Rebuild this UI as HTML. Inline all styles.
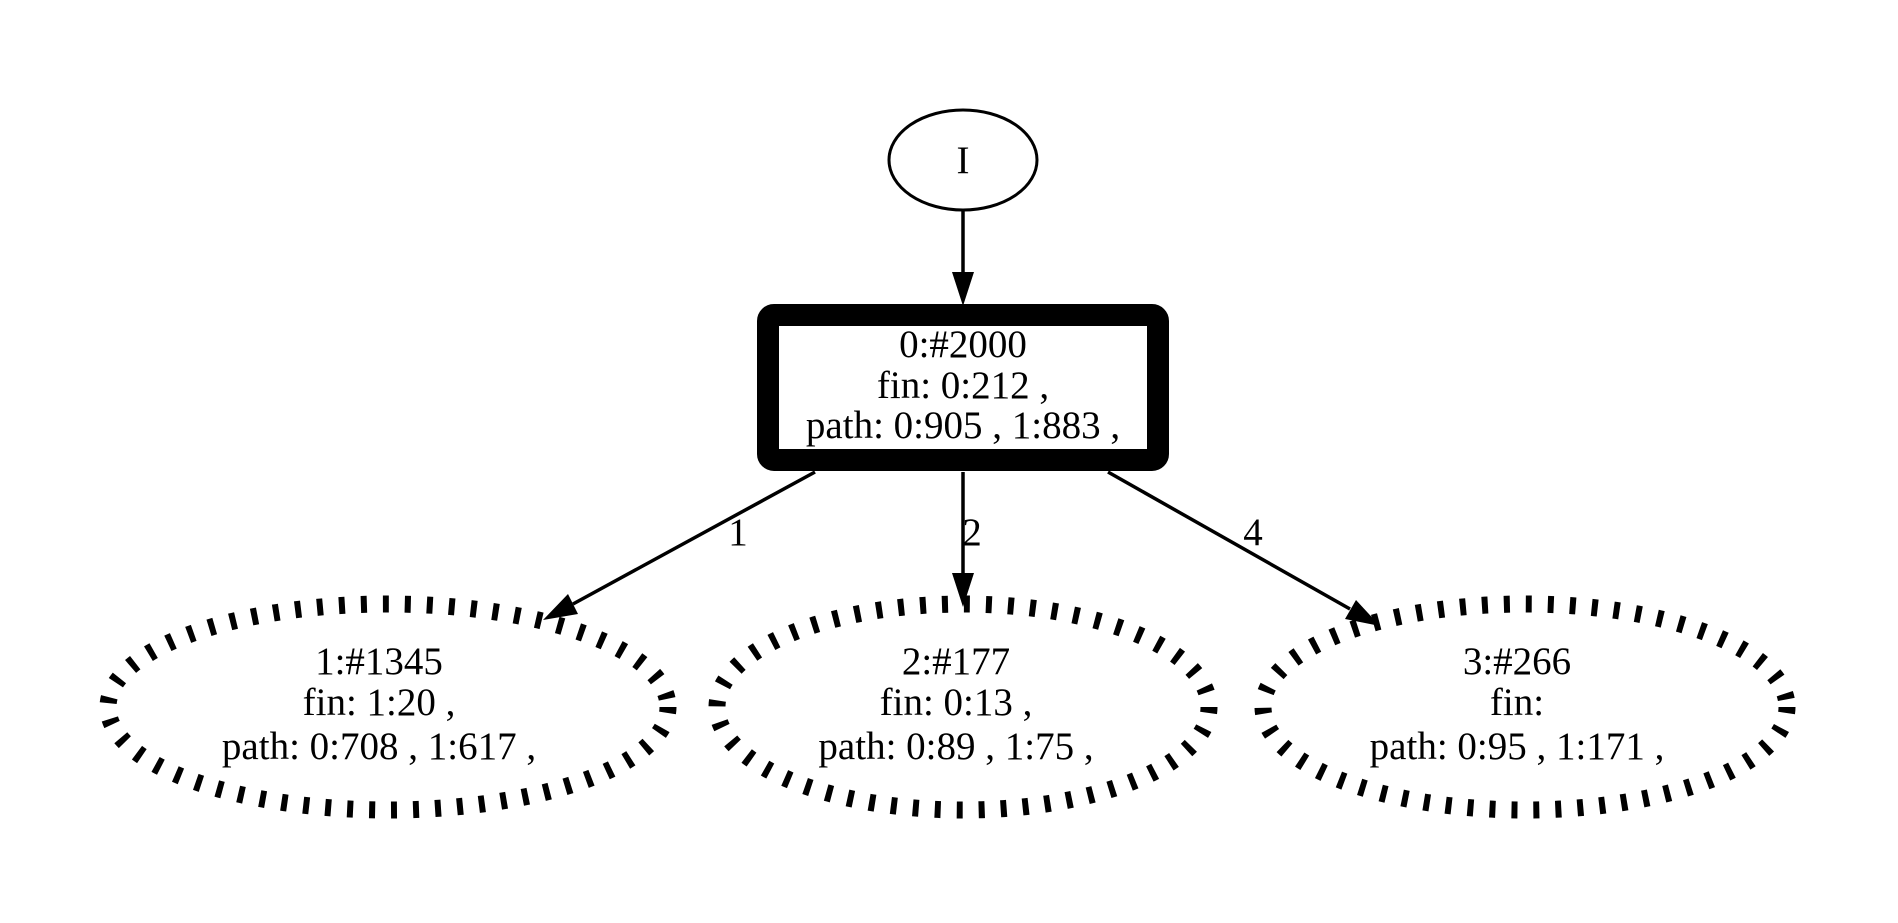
<!DOCTYPE html>
<html><head><meta charset="utf-8"><style>html,body{margin:0;padding:0;background:#fff;}svg{display:block}</style></head>
<body>
<svg width="1898" height="923" viewBox="0 0 1898 923" xmlns="http://www.w3.org/2000/svg" font-family="'Liberation Serif', serif" font-size="39" text-anchor="middle">
<rect width="1898" height="923" fill="#fff"/>
<!-- I node -->
<ellipse cx="963" cy="160" rx="74" ry="50" fill="none" stroke="#000" stroke-width="3"/>
<text x="963" y="173">I</text>
<!-- edge I -> box -->
<line x1="963" y1="211" x2="963" y2="274" stroke="#000" stroke-width="3.5"/>
<polygon points="952,272 974,272 963,306" fill="#000"/>
<!-- box -->
<rect x="768" y="315" width="390" height="145" rx="6" fill="#fff" stroke="#000" stroke-width="22"/>
<text x="963" y="357">0:#2000</text>
<text x="963" y="398">fin: 0:212 ,</text>
<text x="963" y="438">path: 0:905 , 1:883 ,</text>
<!-- edges -->
<line x1="815" y1="472" x2="573" y2="604" stroke="#000" stroke-width="3.5"/>
<polygon points="578,614 568,594 543,620" fill="#000"/>
<text x="738" y="545">1</text>
<line x1="963" y1="472" x2="963" y2="575" stroke="#000" stroke-width="3.5"/>
<polygon points="952,573 974,573 963,607" fill="#000"/>
<text x="972" y="545">2</text>
<line x1="1108" y1="472" x2="1350" y2="609" stroke="#000" stroke-width="3.5"/>
<polygon points="1345,619 1356,600 1380,626" fill="#000"/>
<text x="1253" y="545">4</text>
<!-- bottom dashed ellipses -->
<g fill="none" stroke="#000" stroke-width="17" stroke-dasharray="6 16">
<ellipse cx="388" cy="707" rx="280" ry="103"/>
<ellipse cx="963" cy="707" rx="246" ry="103"/>
<ellipse cx="1525" cy="707" rx="262" ry="103"/>
</g>
<text x="379" y="674">1:#1345</text>
<text x="379" y="715">fin: 1:20 ,</text>
<text x="379" y="759">path: 0:708 , 1:617 ,</text>
<text x="956" y="674">2:#177</text>
<text x="956" y="715">fin: 0:13 ,</text>
<text x="956" y="759">path: 0:89 , 1:75 ,</text>
<text x="1517" y="674">3:#266</text>
<text x="1517" y="715">fin:</text>
<text x="1517" y="759">path: 0:95 , 1:171 ,</text>
</svg>
</body></html>
